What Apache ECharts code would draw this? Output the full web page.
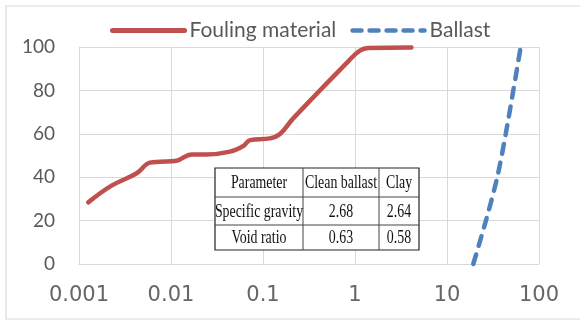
<!DOCTYPE html>
<html>
<head>
<meta charset="utf-8">
<script src="https://cdn.jsdelivr.net/npm/echarts@6/dist/echarts.min.js"></script>
<style>
html,body{margin:0;padding:0;background:#fff;}
#chart{width:580px;height:322px;}
</style>
</head>
<body>
<div id="chart"></div>
<script>
// ---- data ----
var seriesNames = ['Fouling material', 'Ballast'];
var foulingSize = [0.00126, 0.00226, 0.00424, 0.0059, 0.0076, 0.0115, 0.0168, 0.0244, 0.0438, 0.061, 0.0723, 0.119, 0.153, 0.213, 0.85, 1.13, 1.4, 4.1];
var foulingPass = [28.4, 36.1, 41.8, 46.7, 47.1, 47.6, 50.5, 50.5, 51.8, 54.4, 57.1, 57.9, 59.9, 67.1, 93.5, 98.3, 99.5, 99.8];
var ballastSize = [19.3, 26.5, 35.2, 43.5, 52.6, 63.2];
var ballastPass = [0, 20, 40, 60, 80, 100];
var xTickLabels = ['0.001', '0.01', '0.1', '1', '10', '100'];
var yTickLabels = ['0', '20', '40', '60', '80', '100'];
var tableHeader = ['Parameter', 'Clean ballast', 'Clay'];
var tableRow1 = ['Specific gravity', '2.68', '2.64'];
var tableRow2 = ['Void ratio', '0.63', '0.58'];

function pairs(xs, ys) { return xs.map(function (x, i) { return [x, ys[i]]; }); }

// table geometry (layout only)
var tX = [215, 303, 379, 419];
var tY = [168, 197, 225, 250];
var rows = [tableHeader, tableRow1, tableRow2];
var tableEls = [{
  type: 'rect', shape: {x: tX[0], y: tY[0], width: tX[3] - tX[0], height: tY[3] - tY[0]},
  style: {fill: '#fff', stroke: '#222', lineWidth: 1.2}, z: 100
}];
for (var i = 1; i < 3; i++) {
  tableEls.push({type: 'line', shape: {x1: tX[i], y1: tY[0], x2: tX[i], y2: tY[3]}, style: {stroke: '#444', lineWidth: 1}, z: 101});
  tableEls.push({type: 'line', shape: {x1: tX[0], y1: tY[i], x2: tX[3], y2: tY[i]}, style: {stroke: '#444', lineWidth: 1}, z: 101});
}
rows.forEach(function (row, r) {
  row.forEach(function (txt, c) {
    tableEls.push({
      type: 'text', x: (tX[c] + tX[c + 1]) / 2, y: (tY[r] + tY[r + 1]) / 2 + 1, scaleX: 0.75, z: 102,
      style: {text: txt, font: '18.5px "Liberation Serif"', fill: '#111', align: 'center', verticalAlign: 'middle'}
    });
  });
});

var chart = echarts.init(document.getElementById('chart'));
chart.setOption({
  animation: false,
  backgroundColor: '#fff',
  grid: {left: 79, right: 41, top: 47, bottom: 58},
  legend: {
    left: 105, top: 15, itemWidth: 72, itemHeight: 22, itemGap: 14,
    textStyle: {fontFamily: 'Lato', fontSize: 21, color: '#595959'},
    itemStyle: {opacity: 0},
    data: [
      {name: seriesNames[0], itemStyle: {opacity: 0}, lineStyle: {width: 5, color: '#C0504D', cap: 'round'}},
      {name: seriesNames[1], itemStyle: {opacity: 0}, lineStyle: {width: 4.5, color: '#4F81BD', type: [9, 8], cap: 'round'}}
    ]
  },
  xAxis: {
    type: 'log', logBase: 10, min: 0.001, max: 100,
    axisLine: {show: true, lineStyle: {color: '#d9d9d9', width: 1}},
    axisTick: {show: false},
    splitLine: {show: true, lineStyle: {color: '#d9d9d9', width: 1}},
    minorTick: {show: false}, minorSplitLine: {show: false},
    axisLabel: {
      margin: 21, color: '#666', fontFamily: 'DejaVu Sans', fontSize: 21,
      formatter: function (v) {
        var k = Math.round(Math.log10(v)) + 3;
        return xTickLabels[k] !== undefined ? xTickLabels[k] : '';
      }
    }
  },
  yAxis: {
    type: 'value', min: 0, max: 100, interval: 20,
    axisLine: {show: true, lineStyle: {color: '#d9d9d9', width: 1}},
    axisTick: {show: false},
    splitLine: {show: true, lineStyle: {color: '#d9d9d9', width: 1}},
    axisLabel: {
      margin: 24, color: '#595959', fontFamily: 'Lato', fontSize: 19,
      formatter: function (v) { return yTickLabels[Math.round(v / 20)]; }
    }
  },
  series: [
    {
      name: seriesNames[0], type: 'line', symbol: 'none', smooth: 0.4,
      data: pairs(foulingSize, foulingPass),
      lineStyle: {color: '#C0504D', width: 4.5, cap: 'round', join: 'round'},
      itemStyle: {color: '#C0504D'}, clip: false
    },
    {
      name: seriesNames[1], type: 'line', symbol: 'none', smooth: 0.3,
      data: pairs(ballastSize, ballastPass),
      lineStyle: {color: '#4F81BD', width: 4.5, type: [10, 9], cap: 'round'},
      itemStyle: {color: '#4F81BD'}, clip: false
    }
  ],
  graphic: [
    {type: 'rect', shape: {x: 6, y: 6, width: 590, height: 313}, style: {fill: 'none', stroke: '#d9d9d9', lineWidth: 1.2}, silent: true}
  ].concat(tableEls)
});
</script>
</body>
</html>
